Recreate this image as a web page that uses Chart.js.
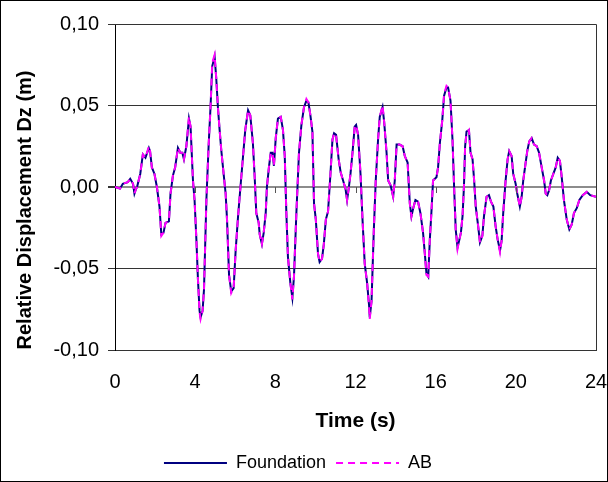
<!DOCTYPE html>
<html>
<head>
<meta charset="utf-8">
<script src="https://cdn.jsdelivr.net/npm/chart.js@4/dist/chart.umd.min.js"></script>
<style>
  html, body { margin: 0; padding: 0; background: #fff; }
  #wrap { width: 608px; height: 482px; }
</style>
</head>
<body>
<div id="wrap"><canvas id="dzChart" width="608" height="482"></canvas></div>
<script>
// time (s)
const times = [
  0, 0.25, 0.39, 0.64, 0.76, 0.9, 0.97, 1.05, 1.1, 1.26,
  1.39, 1.52, 1.69, 1.75, 1.84, 1.97, 2.09, 2.22, 2.31, 2.42,
  2.52, 2.69, 2.77, 2.89, 3.0, 3.14, 3.26, 3.36, 3.44, 3.56,
  3.69, 3.77, 3.89, 3.97, 4.06, 4.14, 4.22, 4.27, 4.37, 4.44,
  4.56, 4.67, 4.77, 4.85, 4.97, 5.05, 5.14, 5.22, 5.3, 5.42,
  5.52, 5.59, 5.69, 5.8, 5.92, 6.02, 6.14, 6.26, 6.39, 6.5,
  6.64, 6.75, 6.88, 6.97, 7.05, 7.17, 7.22, 7.33, 7.42, 7.52,
  7.58, 7.68, 7.77, 7.86, 7.93, 8.02, 8.13, 8.27, 8.38, 8.47,
  8.55, 8.63, 8.75, 8.85, 8.93, 9.05, 9.18, 9.3, 9.43, 9.55,
  9.65, 9.75, 9.85, 9.93, 10.02, 10.13, 10.21, 10.33, 10.42, 10.52,
  10.63, 10.75, 10.85, 10.93, 11.03, 11.16, 11.26, 11.38, 11.5, 11.58,
  11.66, 11.75, 11.85, 11.96, 12.03, 12.13, 12.25, 12.35, 12.46, 12.58,
  12.68, 12.71, 12.8, 12.91, 13.01, 13.13, 13.21, 13.35, 13.43, 13.55,
  13.63, 13.75, 13.88, 13.96, 14.05, 14.2, 14.35, 14.46, 14.6, 14.71,
  14.79, 14.88, 14.99, 15.12, 15.24, 15.37, 15.46, 15.54, 15.63, 15.71,
  15.79, 15.87, 16.04, 16.12, 16.21, 16.33, 16.42, 16.54, 16.62, 16.74,
  16.84, 16.92, 17.0, 17.09, 17.17, 17.26, 17.34, 17.41, 17.47, 17.54,
  17.66, 17.74, 17.84, 17.92, 18.0, 18.12, 18.21, 18.33, 18.41, 18.54,
  18.66, 18.76, 18.88, 18.99, 19.09, 19.21, 19.29, 19.37, 19.49, 19.59,
  19.67, 19.79, 19.87, 19.99, 20.07, 20.2, 20.29, 20.37, 20.49, 20.57,
  20.67, 20.79, 20.91, 21.04, 21.16, 21.29, 21.41, 21.49, 21.57, 21.66,
  21.75, 21.87, 21.99, 22.09, 22.2, 22.29, 22.4, 22.54, 22.67, 22.79,
  22.9, 23.04, 23.17, 23.34, 23.54, 23.71, 24.0
];

// relative displacement Dz (m)
const foundation = [
  0, -0.001, 0.002, 0.003, 0.005, 0.002, -0.004, -0.001, 0, 0.008,
  0.020, 0.018, 0.024, 0.022, 0.012, 0.008, 0, -0.012, -0.029, -0.028,
  -0.022, -0.021, -0.004, 0.007, 0.012, 0.024, 0.021, 0.021, 0.017, 0.025,
  0.042, 0.037, 0.004, -0.008, -0.032, -0.057, -0.076, -0.080, -0.076, -0.063,
  -0.008, 0.025, 0.050, 0.074, 0.080, 0.067, 0.048, 0.035, 0.023, 0.008,
  -0.004, -0.020, -0.054, -0.064, -0.062, -0.039, -0.018, 0, 0.019, 0.035,
  0.047, 0.044, 0.027, 0.006, -0.016, -0.022, -0.029, -0.035, -0.028, -0.016,
  0, 0.012, 0.021, 0.021, 0.013, 0.030, 0.042, 0.043, 0.035, 0.019,
  -0.016, -0.043, -0.059, -0.068, -0.055, -0.016, 0.021, 0.038, 0.049, 0.053,
  0.052, 0.044, 0.034, -0.010, -0.020, -0.041, -0.046, -0.044, -0.035, -0.020,
  -0.015, 0.008, 0.029, 0.033, 0.032, 0.017, 0.009, 0.004, -0.001, -0.008,
  -0.001, 0.008, 0.021, 0.037, 0.038, 0.032, 0.008, -0.020, -0.047, -0.059,
  -0.073, -0.080, -0.070, -0.028, 0.004, 0.030, 0.043, 0.049, 0.040, 0.021,
  0.004, 0.001, -0.006, 0.004, 0.026, 0.026, 0.025, 0.019, 0.015, -0.010,
  -0.018, -0.013, -0.008, -0.009, -0.016, -0.028, -0.041, -0.053, -0.055, -0.032,
  -0.015, 0.004, 0.006, 0.012, 0.027, 0.041, 0.056, 0.061, 0.061, 0.053,
  0.029, 0, -0.026, -0.037, -0.033, -0.028, -0.018, 0, 0.025, 0.034,
  0.035, 0.021, 0.017, 0.004, -0.012, -0.024, -0.034, -0.030, -0.018, -0.006,
  -0.005, -0.009, -0.012, -0.024, -0.032, -0.039, -0.033, -0.016, 0.004, 0.017,
  0.022, 0.019, 0.008, 0.002, -0.004, -0.012, -0.006, 0.004, 0.015, 0.022,
  0.028, 0.030, 0.026, 0.025, 0.021, 0.012, 0.004, -0.004, -0.005, -0.002,
  0.004, 0.008, 0.012, 0.018, 0.016, 0.006, -0.008, -0.020, -0.026, -0.023,
  -0.016, -0.013, -0.008, -0.005, -0.003, -0.005, -0.006
];

const ab = [
  0, -0.001, 0.002, 0.003, 0.005, 0.002, -0.004, -0.001, 0, 0.008,
  0.020, 0.018, 0.025, 0.022, 0.012, 0.008, 0, -0.012, -0.030, -0.028,
  -0.022, -0.021, -0.004, 0.007, 0.012, 0.024, 0.021, 0.021, 0.017, 0.025,
  0.043, 0.037, 0.004, -0.008, -0.032, -0.057, -0.077, -0.081, -0.076, -0.063,
  -0.008, 0.025, 0.050, 0.076, 0.081, 0.067, 0.048, 0.035, 0.023, 0.008,
  -0.004, -0.020, -0.054, -0.065, -0.062, -0.039, -0.018, 0, 0.019, 0.035,
  0.047, 0.044, 0.027, 0.006, -0.016, -0.022, -0.029, -0.035, -0.028, -0.016,
  0, 0.012, 0.021, 0.021, 0.013, 0.030, 0.042, 0.043, 0.035, 0.019,
  -0.016, -0.043, -0.059, -0.069, -0.055, -0.016, 0.021, 0.038, 0.049, 0.054,
  0.052, 0.044, 0.034, -0.010, -0.020, -0.041, -0.046, -0.044, -0.035, -0.020,
  -0.015, 0.008, 0.029, 0.033, 0.032, 0.017, 0.009, 0.004, -0.001, -0.008,
  -0.001, 0.008, 0.021, 0.037, 0.038, 0.032, 0.008, -0.020, -0.047, -0.059,
  -0.074, -0.081, -0.070, -0.028, 0.004, 0.030, 0.043, 0.050, 0.040, 0.021,
  0.004, 0.001, -0.006, 0.004, 0.026, 0.026, 0.025, 0.019, 0.015, -0.010,
  -0.018, -0.013, -0.008, -0.009, -0.016, -0.028, -0.041, -0.054, -0.055, -0.032,
  -0.015, 0.004, 0.006, 0.012, 0.027, 0.041, 0.057, 0.062, 0.061, 0.053,
  0.029, 0, -0.026, -0.038, -0.033, -0.028, -0.018, 0, 0.025, 0.033,
  0.035, 0.021, 0.017, 0.004, -0.012, -0.024, -0.034, -0.030, -0.018, -0.006,
  -0.005, -0.009, -0.012, -0.024, -0.032, -0.040, -0.033, -0.016, 0.004, 0.017,
  0.022, 0.019, 0.008, 0.002, -0.004, -0.012, -0.006, 0.004, 0.015, 0.022,
  0.028, 0.030, 0.026, 0.025, 0.021, 0.012, 0.004, -0.004, -0.005, -0.002,
  0.004, 0.008, 0.012, 0.018, 0.016, 0.006, -0.008, -0.020, -0.026, -0.023,
  -0.016, -0.013, -0.008, -0.005, -0.003, -0.005, -0.006
];

const xTicks = [0, 4, 8, 12, 16, 20, 24];
const yTicks = [-0.10, -0.05, 0, 0.05, 0.10];

const toPoints = (vals) => times.map((t, i) => ({ x: t, y: vals[i] }));
const fmt = (v) => (Math.abs(v) < 1e-9 ? 0 : v).toFixed(2).replace(".", ",");

// frame, plot border, ticks on the zero line and the y title
const decor = {
  id: "decor",
  afterDraw(chart) {
    const { ctx, chartArea: a, scales } = chart;
    ctx.save();
    ctx.strokeStyle = "#000";
    ctx.lineWidth = 1;
    ctx.strokeRect(0.5, 0.5, chart.width - 1, chart.height - 1);
    ctx.strokeStyle = "#333";
    ctx.beginPath();
    ctx.moveTo(a.left, Math.round(a.top) + 0.5);
    ctx.lineTo(Math.round(a.right) + 0.5, Math.round(a.top) + 0.5);
    ctx.lineTo(Math.round(a.right) + 0.5, a.bottom);
    ctx.stroke();
    const y0 = scales.y.getPixelForValue(0);
    ctx.strokeStyle = "#555";
    xTicks.slice(1, -1).forEach((t) => {
      const px = Math.round(scales.x.getPixelForValue(t)) + 0.5;
      ctx.beginPath();
      ctx.moveTo(px, y0);
      ctx.lineTo(px, y0 + 6);
      ctx.stroke();
    });
    ctx.translate(25, 210);
    ctx.rotate(-Math.PI / 2);
    ctx.fillStyle = "#000";
    ctx.font = "bold 20px 'Liberation Sans', Arial, sans-serif";
    ctx.textAlign = "center";
    ctx.textBaseline = "middle";
    ctx.fillText("Relative Displacement Dz (m)", 0, 0);
    ctx.restore();
  },
};

new Chart("dzChart", {
  type: "line",
  data: {
    datasets: [
      {
        label: "Foundation",
        data: toPoints(foundation),
        borderColor: "#000080",
        backgroundColor: "#000080",
        borderWidth: 2,
        pointRadius: 0,
        tension: 0,
        order: 1,
      },
      {
        label: "AB",
        data: toPoints(ab),
        borderColor: "#ff00ff",
        backgroundColor: "#ff00ff",
        borderWidth: 2,
        borderDash: [7, 5],
        pointRadius: 0,
        tension: 0,
        order: 0,
      },
    ],
  },
  options: {
    responsive: false,
    animation: false,
    layout: { padding: { left: 0, right: 12, top: 24, bottom: 0 } },
    scales: {
      x: {
        type: "linear",
        min: 0,
        max: 24,
        afterBuildTicks: (s) => { s.ticks = xTicks.map((v) => ({ value: v })); },
        afterFit: (s) => { s.height = 94; s.paddingLeft = 0; s.paddingRight = 0; },
        ticks: {
          color: "#000",
          padding: 20,
          maxRotation: 0,
          font: { family: "'Liberation Sans', Arial, sans-serif", size: 20 },
        },
        grid: { display: false, drawTicks: false },
        border: { display: true, color: "#333", width: 1 },
        title: {
          display: true,
          text: "Time (s)",
          color: "#000",
          padding: { top: 0, bottom: 10 },
          font: { family: "'Liberation Sans', Arial, sans-serif", size: 21, weight: "bold" },
        },
      },
      y: {
        min: -0.1,
        max: 0.1,
        afterBuildTicks: (s) => { s.ticks = yTicks.map((v) => ({ value: v })); },
        afterFit: (s) => { s.width = 115; },
        ticks: {
          color: "#000",
          padding: 9,
          callback: (v) => fmt(v),
          font: { family: "'Liberation Sans', Arial, sans-serif", size: 20 },
        },
        grid: {
          color: (c) => (c.tick && Math.abs(c.tick.value) < 1e-9 ? "#8c8c8c" : "#333"),
          lineWidth: (c) => (c.tick && Math.abs(c.tick.value) < 1e-9 ? 2 : 1),
          tickColor: "#333",
          tickLength: 7,
        },
        border: { display: true, color: "#000", width: 1 },
      },
    },
    plugins: {
      legend: {
        position: "bottom",
        labels: {
          color: "#000",
          usePointStyle: true,
          pointStyle: "line",
          pointStyleWidth: 63,
          boxHeight: 18,
          padding: 10,
          sort: (a, b) => a.datasetIndex - b.datasetIndex,
          generateLabels: (chart) =>
            Chart.defaults.plugins.legend.labels.generateLabels(chart).map((l) => {
              const ds = chart.data.datasets[l.datasetIndex];
              return { ...l, lineDash: ds.borderDash || [], lineWidth: 2, strokeStyle: ds.borderColor };
            }),
          font: { family: "'Liberation Sans', Arial, sans-serif", size: 18 },
        },
      },
      tooltip: { enabled: false },
    },
  },
  plugins: [decor],
});
</script>
</body>
</html>
